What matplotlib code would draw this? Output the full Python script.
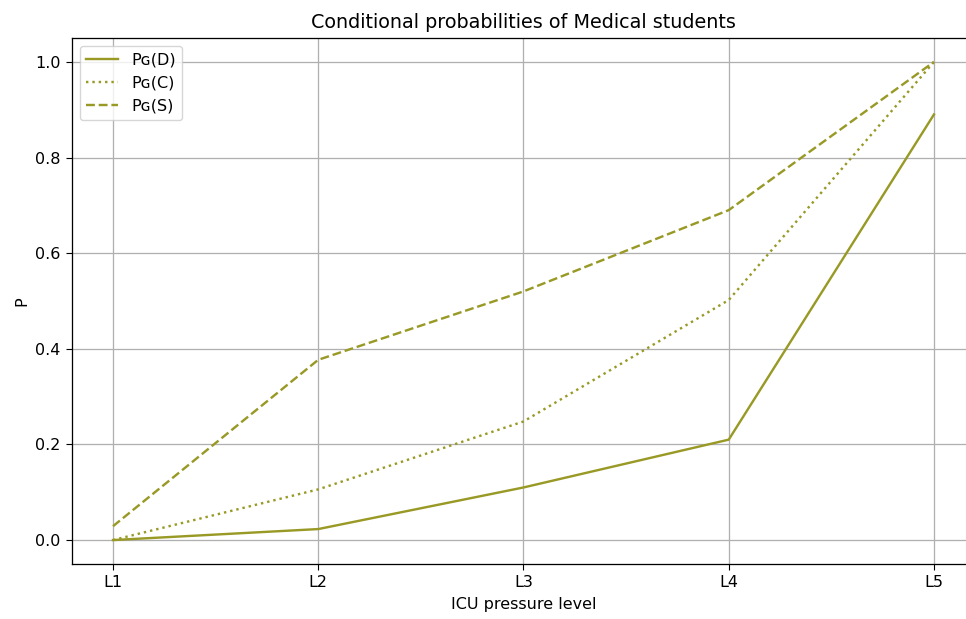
import matplotlib
matplotlib.use("Agg")
import matplotlib.pyplot as plt

levels = ["L1", "L2", "L3", "L4", "L5"]
p_d = [0.0, 0.023, 0.11, 0.21, 0.89]
p_c = [0.0, 0.106, 0.248, 0.502, 1.0]
p_s = [0.029, 0.377, 0.52, 0.69, 1.0]

color = "#999926"

s = 1.15
plt.rcParams.update({
    "font.size": 10 * s,
    "axes.titlesize": 12 * s,
    "axes.titlepad": 6 * s,
    "axes.labelpad": 4 * s,
    "xtick.major.size": 3.5 * s,
    "ytick.major.size": 3.5 * s,
    "xtick.major.pad": 3.5 * s,
    "ytick.major.pad": 3.5 * s,
    "axes.linewidth": 0.8 * s,
    "grid.linewidth": 0.8 * s,
})

fig = plt.figure(figsize=(9.66, 6.19), dpi=100)
# the axes run slightly past the right edge of the canvas
ax = fig.add_axes([0.0745, 0.0889, 0.9348, 0.8497])

lw = 1.5 * s
ax.plot(levels, p_d, color=color, linestyle="-", linewidth=lw, label="Pɢ(D)")
ax.plot(levels, p_c, color=color, linestyle=":", linewidth=lw, label="Pɢ(C)")
ax.plot(levels, p_s, color=color, linestyle="--", linewidth=lw, label="Pɢ(S)")

ax.set_title("Conditional probabilities of Medical students")
ax.set_xlabel("ICU pressure level")
ax.set_ylabel("P")
ax.grid(True)
ax.legend(loc="upper left")

fig.savefig("out.png", dpi=100)
